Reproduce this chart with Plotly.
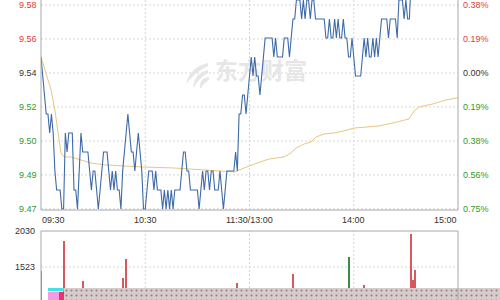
import plotly.graph_objects as go

# ---------------- data ----------------
time_labels = ["09:30", "10:30", "11:30/13:00", "14:00", "15:00"]
time_label_minutes = [0, 60, 120, 180, 240]

# minute-by-minute last price (minute index 0 = 09:30, 240 = 15:00, lunch removed)
price = [
    9.55, 9.54, 9.53, 9.52, 9.52, 9.51, 9.52, 9.51, 9.49, 9.48,
    9.48, 9.48, 9.47, 9.47, 9.51, 9.50, 9.51, 9.51, 9.51, 9.48,
    9.48, 9.47, 9.49, 9.51, 9.50, 9.50, 9.50, 9.50, 9.49, 9.48,
    9.49, 9.49, 9.48, 9.47, 9.48, 9.49, 9.50, 9.50, 9.50, 9.49,
    9.48, 9.49, 9.48, 9.49, 9.48, 9.48, 9.47, 9.49, 9.50, 9.51,
    9.52, 9.51, 9.50, 9.50, 9.49, 9.50, 9.51, 9.50, 9.49, 9.47,
    9.47, 9.48, 9.49, 9.49, 9.49, 9.48, 9.49, 9.48, 9.48, 9.48,
    9.47, 9.48, 9.47, 9.48, 9.47, 9.48, 9.47, 9.48, 9.48, 9.48,
    9.48, 9.49, 9.50, 9.50, 9.49, 9.49, 9.48, 9.48, 9.48, 9.48,
    9.48, 9.47, 9.48, 9.49, 9.48, 9.49, 9.49, 9.48, 9.49, 9.49,
    9.48, 9.48, 9.48, 9.49, 9.48, 9.47, 9.48, 9.49, 9.49, 9.49,
    9.49, 9.49, 9.50, 9.49, 9.52, 9.52, 9.53, 9.53, 9.52, 9.53,
    9.54, 9.55, 9.54, 9.55, 9.54, 9.54, 9.53, 9.54, 9.55, 9.56,
    9.56, 9.56, 9.56, 9.56, 9.55, 9.56, 9.55, 9.55, 9.55, 9.55,
    9.56, 9.56, 9.56, 9.55, 9.56, 9.57, 9.57, 9.58, 9.58, 9.58,
    9.57, 9.58, 9.57, 9.58, 9.58, 9.57, 9.58, 9.58, 9.57, 9.57,
    9.57, 9.57, 9.57, 9.57, 9.56, 9.56, 9.57, 9.56, 9.56, 9.57,
    9.56, 9.57, 9.56, 9.56, 9.57, 9.56, 9.56, 9.55, 9.55, 9.56,
    9.55, 9.54, 9.54, 9.54, 9.54, 9.55, 9.56, 9.55, 9.56, 9.55,
    9.55, 9.56, 9.55, 9.56, 9.55, 9.56, 9.57, 9.57, 9.57, 9.57,
    9.56, 9.57, 9.57, 9.57, 9.57, 9.56, 9.58, 9.58, 9.58, 9.57,
    9.58, 9.57, 9.57, 9.59, 9.60, 9.60, 9.59, 9.60, 9.60, 9.59,
    9.60, 9.59, 9.59, 9.60, 9.60, 9.59, 9.60, 9.59, 9.60, 9.60,
    9.59, 9.60, 9.59, 9.59, 9.60, 9.60, 9.59, 9.60, 9.59, 9.60,
    9.60,
]
minutes = list(range(len(price)))

# average price line (read at these minutes)
avg_minutes = [0, 5.8, 8, 9.8, 11.5, 13.2, 17.3, 23, 28.8, 36.8, 47.2, 58.7, 76,
               94.4, 111.7, 114, 121.4, 131.2, 139.9, 143.9, 146.8, 151.4, 155.4,
               158.3, 163, 168.6, 174.4, 180.1, 188.8, 194.5, 202.6, 211.8, 214.7,
               217.6, 225.6, 233.1, 240]
avg_price = [9.550, 9.5326, 9.522, 9.510, 9.4995, 9.4974, 9.4974, 9.4958, 9.4942,
             9.4932, 9.4926, 9.4921, 9.4916, 9.4905, 9.4895, 9.4905, 9.4932, 9.4963,
             9.4974, 9.4995, 9.5021, 9.5042, 9.5053, 9.5079, 9.5095, 9.5100, 9.5111,
             9.5126, 9.5132, 9.5137, 9.5153, 9.5174, 9.5216, 9.5237, 9.5253, 9.5274,
             9.5286]

prev_close = 9.5416
pct_levels = [0.375, 0.1875, 0.0, -0.1875, -0.375, -0.5625, -0.75]
price_tick_text = ["9.58", "9.56", "9.54", "9.52", "9.50", "9.49", "9.47"]
pct_tick_text = ["0.38%", "0.19%", "0.00%", "0.19%", "0.38%", "0.56%", "0.75%"]

vol_minutes = [0, 13, 24, 47, 49, 113, 145, 177, 186, 213, 214, 215]
vol_values = [1467, 1889, 1326, 1368, 1635, 1297, 1424, 1664, 1270, 1988, 1340, 1480]
vol_dir = ["up", "up", "up", "up", "up", "up", "up", "down", "up", "up", "up", "up"]
vol_tick_vals = [2030, 1523, 1015]
vol_tick_text = ["2030", "1523", "1015"]

# ---------------- styling ----------------
W, H = 500, 300
PX_L, PX_R = 41, 458
MAIN_TOP, MAIN_BOT = 0, 210
VOL_TOP = 231
RED = "#e03c3c"
GREEN = "#2e9a2e"
BLACK = "#333333"
FONT = "Liberation Sans, Arial, sans-serif"


def fx(px):
    return px / W


def fy(py):
    return 1 - py / H


tick_vals = [prev_close * (1 + p / 100) for p in pct_levels]
main_range = [9.46947, 9.58]
px_per_min = (PX_R - PX_L) / 240

fig = go.Figure()

# watermark (behind the lines)
fig.add_trace(go.Scatter(
    x=[(261 - PX_L) / px_per_min], y=[prev_close - 0.0003],
    mode="text", text=["<b>东方财富</b>"], textposition="middle center",
    textfont=dict(family="Noto Sans CJK SC", size=23, color="#e6e6e6"),
    hoverinfo="skip", showlegend=False, xaxis="x", yaxis="y"))

fig.add_trace(go.Scatter(
    x=avg_minutes, y=avg_price, mode="lines",
    line=dict(color="#e9c77f", width=1), showlegend=False, xaxis="x", yaxis="y"))

fig.add_trace(go.Scatter(
    x=minutes, y=price, mode="lines",
    line=dict(color="#3d6aa8", width=1.1), showlegend=False, xaxis="x", yaxis="y"))

vol_colors = ["#d9585d" if d == "up" else "#3f8a46" for d in vol_dir]
fig.add_trace(go.Bar(
    x=vol_minutes, y=vol_values, width=0.6, marker=dict(color=vol_colors, line=dict(width=0)),
    showlegend=False, xaxis="x2", yaxis="y2"))

# dotted band at bottom
fig.add_trace(go.Bar(
    x=[0], y=[1], width=1,
    marker=dict(color="#d7cbcb", line=dict(width=0),
                pattern=dict(shape=".", fgcolor="#444444", bgcolor="#d7cbcb", size=5, solidity=0.15)),
    showlegend=False, xaxis="x3", yaxis="y3"))

shapes = []
grid = dict(color="#d6d6d6", width=1, dash="2px,2px")
# horizontal grid lines main
for tv in tick_vals:
    shapes.append(dict(type="line", xref="paper", yref="y", x0=fx(PX_L), x1=fx(PX_R),
                       y0=tv, y1=tv, line=grid, layer="below"))
# vertical grid lines
for m in time_label_minutes[1:-1]:
    shapes.append(dict(type="line", xref="x", yref="paper", x0=m, x1=m,
                       y0=fy(MAIN_BOT), y1=1, line=grid, layer="below"))
    shapes.append(dict(type="line", xref="x", yref="paper", x0=m, x1=m,
                       y0=0, y1=fy(VOL_TOP), line=grid, layer="below"))
shapes.append(dict(type="line", xref="paper", yref="y2", x0=fx(PX_L), x1=fx(PX_R),
                   y0=vol_tick_vals[1], y1=vol_tick_vals[1], line=grid, layer="below"))

# watermark logo (three light feathers)
logo = "#e6e6e6"
for (ax, ay, bx, by, cx, cy) in [(208, 63, 190, 70, 186, 84), (208, 70, 194, 76, 193, 88),
                                  (209, 77, 199, 81, 200, 89)]:
    path = (f"M {fx(ax)} {fy(ay)} Q {fx(bx)} {fy(by - 3)} {fx(cx)} {fy(cy)} "
            f"Q {fx(bx + 5)} {fy(by + 2)} {fx(ax)} {fy(ay + 3)} Z")
    shapes.append(dict(type="path", xref="paper", yref="paper", path=path,
                       fillcolor=logo, line=dict(width=0), layer="below"))

border = dict(color="#a8a8a8", width=1)
shapes += [
    dict(type="line", xref="paper", yref="paper", x0=fx(PX_L), x1=fx(PX_L), y0=fy(MAIN_BOT), y1=1, line=border),
    dict(type="line", xref="paper", yref="paper", x0=fx(PX_R), x1=fx(PX_R), y0=fy(MAIN_BOT), y1=1, line=border),
    dict(type="line", xref="paper", yref="paper", x0=fx(PX_L), x1=fx(PX_R), y0=fy(MAIN_BOT), y1=fy(MAIN_BOT), line=border),
    dict(type="line", xref="paper", yref="paper", x0=fx(PX_L), x1=fx(PX_L), y0=0, y1=fy(VOL_TOP), line=border),
    dict(type="line", xref="paper", yref="paper", x0=fx(PX_R), x1=fx(PX_R), y0=0, y1=fy(VOL_TOP), line=border),
    dict(type="line", xref="paper", yref="paper", x0=fx(PX_L), x1=fx(PX_R), y0=fy(VOL_TOP), y1=fy(VOL_TOP), line=border),
]
# cyan / pink marker block
shapes += [
    dict(type="rect", xref="paper", yref="paper", x0=fx(48), x1=fx(64), y0=fy(291), y1=fy(288),
         fillcolor="#3fe3e3", line=dict(width=0)),
    dict(type="rect", xref="paper", yref="paper", x0=fx(48), x1=fx(59), y0=fy(300), y1=fy(292),
         fillcolor="#f59be3", line=dict(width=0)),
    dict(type="rect", xref="paper", yref="paper", x0=fx(59), x1=fx(64), y0=fy(300), y1=fy(292),
         fillcolor="#e8336f", line=dict(width=0)),
]

annotations = []
for tv, t, p in zip(tick_vals, price_tick_text, pct_levels):
    col = RED if p > 0 else (BLACK if p == 0 else GREEN)
    annotations.append(dict(xref="paper", yref="y", x=fx(39), y=tv, text=t, showarrow=False,
                            xanchor="right", yanchor="middle", font=dict(family=FONT, size=9, color=col)))
for tv, t, p in zip(tick_vals, pct_tick_text, pct_levels):
    col = RED if p > 0 else (BLACK if p == 0 else GREEN)
    annotations.append(dict(xref="paper", yref="y", x=fx(461), y=tv, text=t, showarrow=False,
                            xanchor="left", yanchor="middle", font=dict(family=FONT, size=9, color=col)))
for m, t in zip(time_label_minutes, time_labels):
    anchor = "left" if m == 0 else ("right" if m == 240 else "center")
    xpos = fx(PX_L - 1) if m == 0 else (fx(PX_R + 1) if m == 240 else None)
    ann = dict(yref="paper", y=fy(220), text=t, showarrow=False, xanchor=anchor, yanchor="middle",
               font=dict(family=FONT, size=9, color=BLACK))
    if xpos is None:
        ann.update(xref="x", x=m)
    else:
        ann.update(xref="paper", x=xpos)
    annotations.append(ann)
for v, t in zip(vol_tick_vals, vol_tick_text):
    annotations.append(dict(xref="paper", yref="paper", x=fx(37),
                            y=fy(VOL_TOP + (vol_tick_vals[0] - v) * 36 / 507), text=t, showarrow=False,
                            xanchor="right", yanchor="middle", font=dict(family=FONT, size=9, color=BLACK)))

vol_bottom = vol_tick_vals[0] - (H - VOL_TOP) * 507 / 36

fig.update_layout(
    width=W, height=H, margin=dict(l=0, r=0, t=0, b=0),
    paper_bgcolor="white", plot_bgcolor="rgba(0,0,0,0)",
    showlegend=False, bargap=0,
    xaxis=dict(domain=[fx(PX_L), fx(PX_R)], range=[0, 240], visible=False, anchor="y"),
    yaxis=dict(domain=[fy(MAIN_BOT), 1], range=main_range, visible=False, anchor="x"),
    xaxis2=dict(domain=[fx(PX_L), fx(PX_R)], range=[0, 240], visible=False, anchor="y2"),
    yaxis2=dict(domain=[0, fy(VOL_TOP)], range=[vol_bottom, vol_tick_vals[0]], visible=False, anchor="x2"),
    xaxis3=dict(domain=[fx(64), 1], range=[-0.5, 0.5], visible=False, anchor="y3"),
    yaxis3=dict(domain=[0, fy(288)], range=[0, 1], visible=False, anchor="x3"),
    shapes=shapes, annotations=annotations,
)

fig.write_html("out.html")
